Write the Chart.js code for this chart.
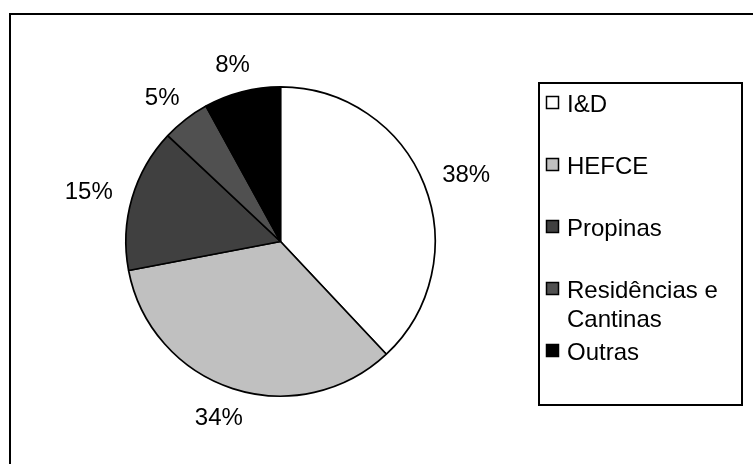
<!DOCTYPE html>
<html>
<head>
<meta charset="utf-8">
<title>Receitas</title>
<script src="https://cdn.jsdelivr.net/npm/chart.js@4.4.1/dist/chart.umd.min.js"></script>
<style>
  html, body { margin: 0; padding: 0; background: #ffffff; }
  #wrap { width: 753px; height: 464px; position: relative; }
</style>
</head>
<body>
<div id="wrap"><canvas id="pie" width="753" height="464"></canvas></div>
<script>
// Income shares by source (percent)
const categories = ['I&D', 'HEFCE', 'Propinas', 'Residências e Cantinas', 'Outras'];
const shares = [38, 34, 15, 5, 8];
const sliceColours = ['#ffffff', '#c0c0c0', '#404040', '#505050', '#000000'];

const FONT = '"Liberation Sans", Arial, Helvetica, sans-serif';

// Outer frame around the whole chart
const framePlugin = {
  id: 'frame',
  beforeDraw(chart) {
    const ctx = chart.ctx;
    ctx.save();
    ctx.fillStyle = '#ffffff';
    ctx.fillRect(0, 0, chart.width, chart.height);
    ctx.strokeStyle = '#000000';
    ctx.lineWidth = 2;
    ctx.strokeRect(10, 14, chart.width + 20, chart.height + 20);
    ctx.restore();
  }
};

// Percent labels placed just outside each slice
const outsideLabels = {
  id: 'outsideLabels',
  afterDatasetsDraw(chart) {
    const ctx = chart.ctx;
    const meta = chart.getDatasetMeta(0);
    const size = 24;
    const gap = 21;
    ctx.save();
    ctx.font = size + 'px ' + FONT;
    ctx.fillStyle = '#000000';
    ctx.textAlign = 'center';
    ctx.textBaseline = 'alphabetic';
    meta.data.forEach((arc, i) => {
      const p = arc.getProps(['x', 'y', 'startAngle', 'endAngle', 'outerRadius'], true);
      const mid = (p.startAngle + p.endAngle) / 2;
      const dx = Math.cos(mid), dy = Math.sin(mid);
      const text = chart.data.datasets[0].data[i] + '%';
      const w = ctx.measureText(text).width;
      const h = size * 0.716;
      const r = p.outerRadius + gap;
      const cx = p.x + dx * r + dx * w / 2;
      const cy = p.y + dy * r + dy * h / 2;
      ctx.fillText(text, cx, cy + h / 2);
    });
    ctx.restore();
  }
};

// Boxed legend on the right
const boxedLegend = {
  id: 'boxedLegend',
  afterDraw(chart) {
    const ctx = chart.ctx;
    const box = { left: 539, top: 83, right: 742, bottom: 405 };
    const size = 24;
    const rowStep = 62;
    const lineStep = 29;
    const firstSwatchTop = 96;
    const swatch = 12;
    const swatchX = 546;
    const textX = 567;
    const maxW = box.right - textX - 4;
    ctx.save();
    ctx.strokeStyle = '#000000';
    ctx.lineWidth = 2;
    ctx.strokeRect(box.left, box.top, box.right - box.left, box.bottom - box.top);
    ctx.font = size + 'px ' + FONT;
    ctx.textAlign = 'left';
    ctx.textBaseline = 'alphabetic';
    const colours = chart.data.datasets[0].backgroundColor;
    chart.data.labels.forEach((label, i) => {
      const top = firstSwatchTop + i * rowStep;
      ctx.fillStyle = colours[i];
      ctx.fillRect(swatchX, top, swatch, swatch);
      ctx.lineWidth = 1.5;
      ctx.strokeStyle = '#000000';
      ctx.strokeRect(swatchX + 0.5, top + 0.5, swatch, swatch);
      // word wrap within the box
      const words = label.split(' ');
      const lines = [];
      let line = '';
      words.forEach(wd => {
        const test = line ? line + ' ' + wd : wd;
        if (ctx.measureText(test).width > maxW && line) {
          lines.push(line);
          line = wd;
        } else {
          line = test;
        }
      });
      lines.push(line);
      ctx.fillStyle = '#000000';
      lines.forEach((ln, k) => {
        ctx.fillText(ln, textX, top + 16 + k * lineStep);
      });
    });
    ctx.restore();
  }
};

new Chart(document.getElementById('pie'), {
  type: 'pie',
  data: {
    labels: categories,
    datasets: [{
      data: shares,
      backgroundColor: sliceColours,
      borderColor: '#000000',
      borderWidth: 1.7
    }]
  },
  options: {
    responsive: false,
    devicePixelRatio: 1,
    animation: false,
    layout: { padding: { left: 125, top: 86, right: 317, bottom: 67 } },
    plugins: {
      legend: { display: false },
      tooltip: { enabled: false }
    }
  },
  plugins: [framePlugin, outsideLabels, boxedLegend]
});
</script>
</body>
</html>
